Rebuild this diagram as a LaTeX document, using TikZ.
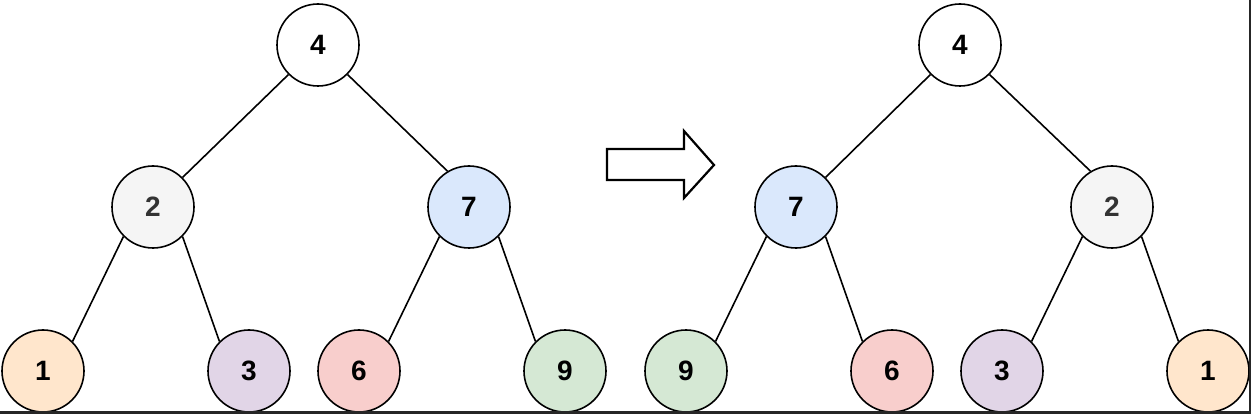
\documentclass[tikz,border=0pt]{standalone}
\usepackage{fontspec}
\setmainfont{Liberation Sans}
\usetikzlibrary{calc}
\definecolor{cOrange}{HTML}{FFE6CC}
\definecolor{cPurple}{HTML}{E1D5E7}
\definecolor{cRed}{HTML}{F8CECC}
\definecolor{cGreen}{HTML}{D5E8D4}
\definecolor{cBlue}{HTML}{DAE8FC}
\definecolor{cGray}{HTML}{F5F5F5}
\definecolor{cGrayText}{HTML}{333333}
\begin{document}
\begin{tikzpicture}[x=1pt,y=-1pt,
  tnode/.style={circle,draw=black,line width=1.6pt,minimum size=82pt,inner sep=0pt,
    font=\fontsize{28}{30}\selectfont\bfseries},
  edge/.style={draw=black,line width=1.6pt}]
\useasboundingbox (0,0) rectangle (1251,414);
% left tree
\node[tnode] (L4) at (318,45) {4};
\node[tnode,fill=cGray,text=cGrayText] (L2) at (153,207) {2};
\node[tnode,fill=cBlue] (L7) at (469,207) {7};
\node[tnode,fill=cOrange] (L1) at (43,371) {1};
\node[tnode,fill=cPurple] (L3) at (249,371) {3};
\node[tnode,fill=cRed] (L6) at (359,371) {6};
\node[tnode,fill=cGreen] (L9) at (565,371) {9};
% right tree
\node[tnode] (R4) at (960,45) {4};
\node[tnode,fill=cBlue] (R7) at (796,207) {7};
\node[tnode,fill=cGray,text=cGrayText] (R2) at (1112,207) {2};
\node[tnode,fill=cGreen] (R9) at (686,371) {9};
\node[tnode,fill=cRed] (R6) at (892,371) {6};
\node[tnode,fill=cPurple] (R3) at (1002,371) {3};
\node[tnode,fill=cOrange] (R1) at (1208,371) {1};
% edges
\draw[edge] (L4.-135) -- (L2.45);
\draw[edge] (L4.-45) -- (L7.121);
\draw[edge] (L2.-135) -- (L1.45);
\draw[edge] (L2.-45) -- (L3.135);
\draw[edge] (L7.-135) -- (L6.45);
\draw[edge] (L7.-45) -- (L9.135);
\draw[edge] (R4.-135) -- (R7.45);
\draw[edge] (R4.-45) -- (R2.121);
\draw[edge] (R7.-135) -- (R9.45);
\draw[edge] (R7.-45) -- (R6.135);
\draw[edge] (R2.-135) -- (R3.45);
\draw[edge] (R2.-45) -- (R1.135);
% block arrow
\draw[line width=2.2pt,line join=miter,fill=white]
  (607,149) -- (684,149) -- (684,131) -- (714,165) -- (684,198) -- (684,180) -- (607,180) -- cycle;
% frame artifacts
\fill[black!85] (0,411) rectangle (1251,414);
\fill[black!85] (1249,0) rectangle (1251,414);
\end{tikzpicture}
\end{document}
